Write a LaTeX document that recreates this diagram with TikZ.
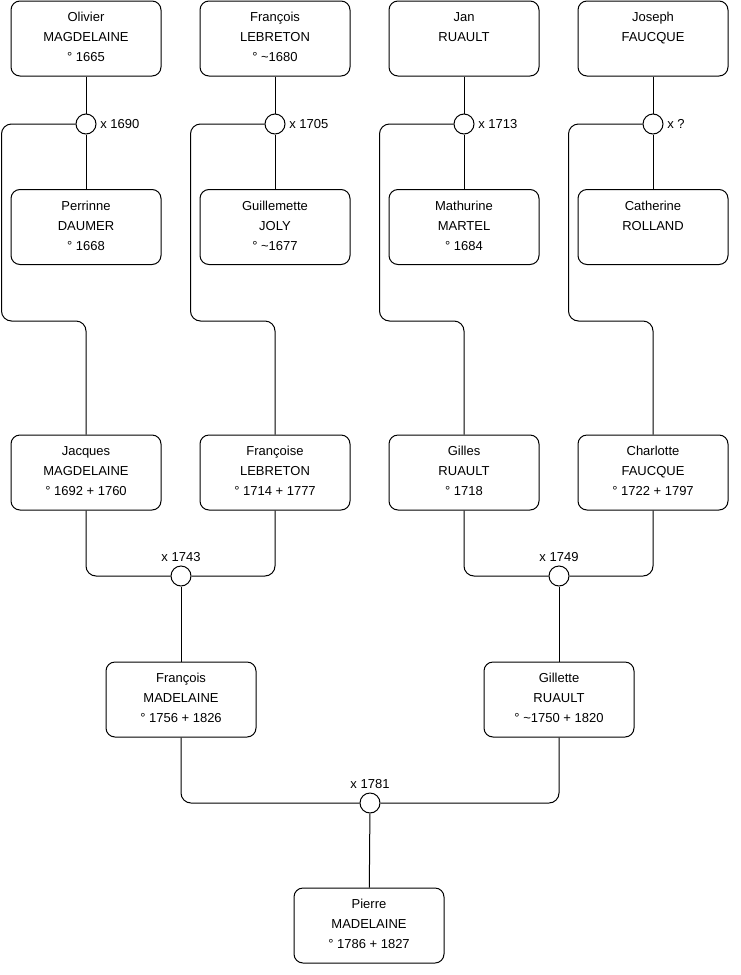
\documentclass[tikz,border=0pt]{standalone}
\usepackage{fontspec}
\setmainfont{Liberation Sans}
\usetikzlibrary{positioning,calc}

\begin{document}
\begin{tikzpicture}[x=1pt,y=-1pt,
  line width=1pt,
  every node/.style={font=\fontsize{13}{20}\selectfont},
  person/.style={draw,rounded corners=9pt,minimum width=150pt,minimum height=75pt,align=center,text depth=3pt},
  person2/.style={person,text depth=23pt},
  couple/.style={draw,circle,fill=white,minimum size=20pt,inner sep=0pt},
  link/.style={rounded corners=10pt}]
  \useasboundingbox (0,0) rectangle (740,975);
  % ancetres
  \node[person] (olivier) at (86,38.5) {Olivier\\MAGDELAINE\\° 1665};
  \node[person] (francois) at (275,38.5) {François\\LEBRETON\\° \textasciitilde1680};
  \node[person2] (jan) at (464,38.5) {Jan\\RUAULT};
  \node[person2] (joseph) at (653,38.5) {Joseph\\FAUCQUE};
  \node[couple,label=right:x 1690] (m1690) at (86,124) {};
  \node[couple,label=right:x 1705] (m1705) at (275,124) {};
  \node[couple,label=right:x 1713] (m1713) at (464,124) {};
  \node[couple,label=right:x ?] (m17xx) at (653,124) {};
  \node[person] (perrinne) at (86,227) {Perrinne\\DAUMER\\° 1668};
  \node[person] (guillemette) at (275,227) {Guillemette\\JOLY\\° \textasciitilde1677};
  \node[person] (mathurine) at (464,227) {Mathurine\\MARTEL\\° 1684};
  \node[person2] (catherine) at (653,227) {Catherine\\ROLLAND};
  % enfants
  \node[person] (jacques) at (86,472.5) {Jacques\\MAGDELAINE\\° 1692 + 1760};
  \node[person] (francoise) at (275,472.5) {Françoise\\LEBRETON\\° 1714 + 1777};
  \node[person] (gilles) at (464,472.5) {Gilles\\RUAULT\\° 1718};
  \node[person] (charlotte) at (653,472.5) {Charlotte\\FAUCQUE\\° 1722 + 1797};
  \node[couple,label=above:x 1743] (m1743) at (181,576) {};
  \node[couple,label=above:x 1749] (m1749) at (559,576) {};
  \node[person] (francoisM) at (181,699.5) {François\\MADELAINE\\° 1756 + 1826};
  \node[person] (gillette) at (559,699.5) {Gillette\\RUAULT\\° \textasciitilde1750 + 1820};
  \node[couple,label=above:x 1781] (m1781) at (370,803) {};
  \node[person] (pierre) at (369,925.5) {Pierre\\MADELAINE\\° 1786 + 1827};
  % liens
  \foreach \a/\m/\b/\c in {olivier/m1690/perrinne/jacques,francois/m1705/guillemette/francoise,
                           jan/m1713/mathurine/gilles,joseph/m17xx/catherine/charlotte} {
    \draw (\a) -- (\m) -- (\b);
    \draw[link] (\m.west) -| ++(-74,197) -| (\c.north);
  }
  \draw[link] (jacques.south) |- (m1743.west);
  \draw[link] (m1743.east) -| (francoise.south);
  \draw (m1743) -- (francoisM);
  \draw[link] (gilles.south) |- (m1749.west);
  \draw[link] (m1749.east) -| (charlotte.south);
  \draw (m1749) -- (gillette);
  \draw[link] (francoisM.south) |- (m1781.west);
  \draw[link] (m1781.east) -| (gillette.south);
  \draw (m1781) -- (pierre);
\end{tikzpicture}
\end{document}
